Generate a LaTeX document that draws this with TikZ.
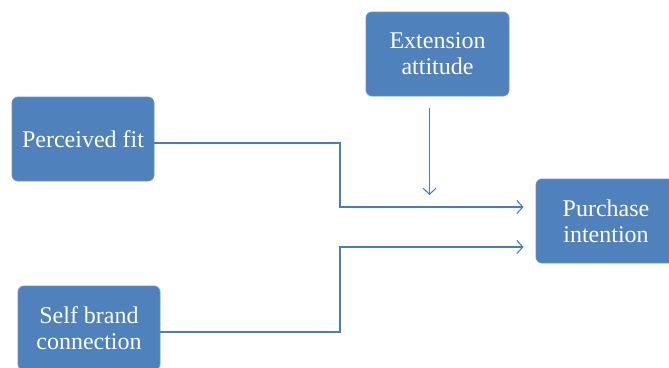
\documentclass[tikz,border=0pt]{standalone}
\usepackage{fontspec}
\setmainfont{Liberation Serif}
\usetikzlibrary{arrows.meta}
\definecolor{boxblue}{HTML}{4F81BD}
\definecolor{lineblue}{HTML}{4A7EBB}
\begin{document}
\begin{tikzpicture}[x=1pt,y=-1pt,
  box/.style={draw=boxblue!85!white, fill=boxblue, rounded corners=6pt, text=white,
    font=\fontsize{24}{26}\selectfont, align=center, minimum width=142pt,
    minimum height=84pt, inner sep=0pt, line width=0.8pt},
  conn/.style={draw=lineblue, line width=1.1pt},
  arr/.style={conn, -{Straight Barb[length=6pt,width=13pt]}}]
\useasboundingbox (0,0) rectangle (669,367);
\clip (0,0) rectangle (669,367);
\node[box] (pf) at (83,139) {Perceived fit};
\node[box, minimum width=143pt] (ea) at (437.5,54) {Extension\\attitude};
\node[box, minimum width=140pt] (pi) at (606,221) {Purchase\\intention};
\node[box] (sb) at (89,328) {Self brand\\connection};
\coordinate (t1) at ([xshift=-12pt,yshift=14pt]pi.west);
\coordinate (t2) at ([xshift=-12pt,yshift=-26pt]pi.west);
\coordinate (es) at ([xshift=-8pt,yshift=-12pt]ea.south);
\coordinate (ee) at (429.5,195);
\draw[arr] ([yshift=-4pt]pf.east) -| (340,207) -- (t1);
\draw[arr] ([yshift=-4pt]sb.east) -| (340,247) -- (t2);
\draw[arr] (es) -- (ee);
\end{tikzpicture}
\end{document}
